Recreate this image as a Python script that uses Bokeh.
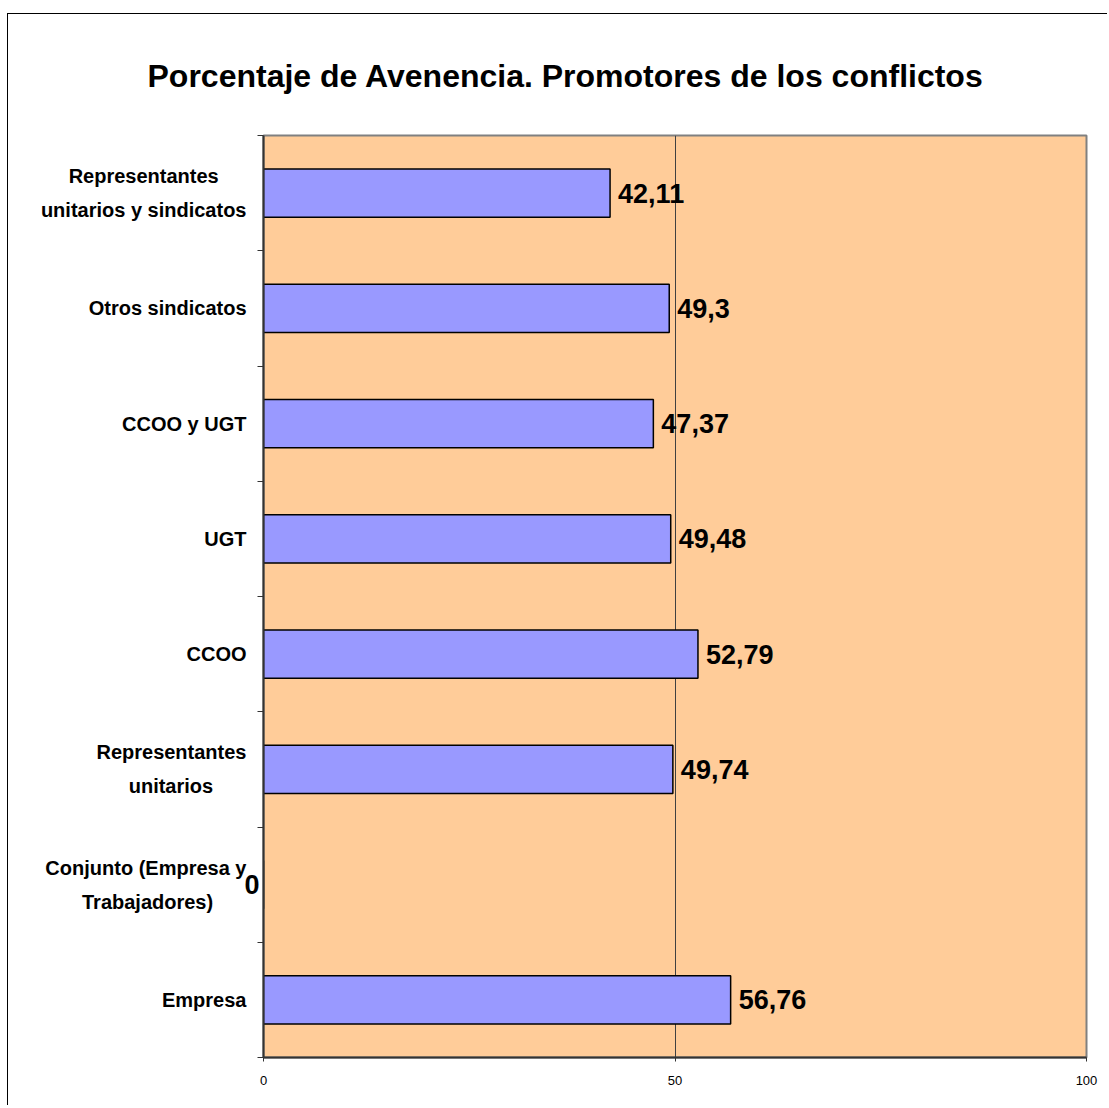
from bokeh.plotting import figure
from bokeh.models import Label, FixedTicker, Range1d, ColumnDataSource, LinearAxis
from bokeh.embed import file_html
from bokeh.resources import INLINE

# ---- data (bottom to top) ----
categories = [
    "Empresa",
    "Conjunto (Empresa y\nTrabajadores)",
    "Representantes\nunitarios",
    "CCOO",
    "UGT",
    "CCOO y UGT",
    "Otros sindicatos",
    "Representantes\nunitarios y sindicatos",
]
values = [56.76, 0, 49.74, 52.79, 49.48, 47.37, 49.3, 42.11]
value_labels = ["56,76", "0", "49,74", "52,79", "49,48", "47,37", "49,3", "42,11"]
x_ticks = [0, 50, 100]
title_text = "Porcentaje de Avenencia.  Promotores de los conflictos"

FONT = "Liberation Sans"
n = len(categories)
ypos = [i + 0.5 for i in range(n)]

p = figure(
    width=1100, height=1092,
    x_range=Range1d(0, 100), y_range=Range1d(0, n),
    output_backend="svg", toolbar_location=None,
    min_border_left=255, min_border_top=121, min_border_right=22, min_border_bottom=49,
)
p.styles = {"border-left": "1px solid black", "border-top": "1px solid black",
            "margin-top": "13px", "margin-left": "7px"}
p.background_fill_color = "#FFCC99"
p.border_fill_color = "white"
p.outline_line_color = "#808080"
p.outline_line_width = 2

# title
p.title.text = title_text
p.title.align = "left"
p.title.offset = -116
p.title.standoff = 83
p.title.text_font = FONT
p.title.text_font_style = "bold"
p.title.text_font_size = "32px"
p.title.text_color = "black"

src = ColumnDataSource(dict(y=ypos, v=values))
p.hbar(y="y", right="v", left=0, height=0.42, source=src,
       fill_color="#9999FF", line_color="black", line_width=1.5)

# x axis
p.xaxis.ticker = FixedTicker(ticks=x_ticks)
p.xaxis.axis_line_color = "#333333"
p.xaxis.axis_line_width = 2
p.xaxis.major_tick_out = 4
p.xaxis.major_tick_in = 0
p.xaxis.minor_tick_line_color = None
p.xaxis.major_tick_line_color = "#333333"
p.xaxis.major_label_text_font = FONT
p.xaxis.major_label_text_font_size = "13px"
p.xaxis.major_label_text_color = "black"
p.xaxis.major_label_standoff = 14

# inner y axis: category boundary ticks (minor) + outside-end label of zero-valued bars
zero_pos = [y for v, y in zip(values, ypos) if v == 0]
ya = p.yaxis[0]
ya.ticker = FixedTicker(ticks=zero_pos, minor_ticks=list(range(n + 1)))
ya.major_label_overrides = {y: t for v, t, y in zip(values, value_labels, ypos) if v == 0}
ya.axis_line_color = "#333333"
ya.axis_line_width = 2
ya.major_tick_out = 0
ya.major_tick_in = 0
ya.minor_tick_out = 6
ya.minor_tick_in = 0
ya.minor_tick_line_color = "#333333"
ya.major_tick_line_color = None
ya.major_label_text_font = FONT
ya.major_label_text_font_style = "bold"
ya.major_label_text_font_size = "27px"
ya.major_label_text_color = "black"
ya.major_label_standoff = -2

# outer y axis: category names (shorter lines padded so lines look centred)
pads = {1: [0, 6], 2: [0, 6], 7: [5, 0]}
NB = "\u00a0"
cat_text = {}
for i, (cat, y) in enumerate(zip(categories, ypos)):
    lines = cat.split("\n")
    pad = pads.get(i, [0] * len(lines))
    cat_text[y] = "\n".join(l + NB * k for l, k in zip(lines, pad))
yb = LinearAxis(ticker=FixedTicker(ticks=ypos), major_label_overrides=cat_text)
yb.axis_line_color = None
yb.major_tick_line_color = None
yb.minor_tick_line_color = None
yb.major_tick_out = 0
yb.major_tick_in = 0
yb.major_label_standoff = -5
yb.major_label_text_font = FONT
yb.major_label_text_font_style = "bold"
yb.major_label_text_font_size = "20px"
yb.major_label_text_line_height = 1.55
yb.major_label_text_color = "black"
p.add_layout(yb, "left")

p.xgrid.ticker = FixedTicker(ticks=[50])
p.xgrid.grid_line_color = "#404040"
p.xgrid.grid_line_width = 1
p.ygrid.grid_line_color = None

# value labels (inside the plot area)
for v, t, y in zip(values, value_labels, ypos):
    if v == 0:
        continue
    lab = Label(x=v, y=y, text=t, x_offset=8, text_align="left", text_baseline="middle",
                text_font=FONT, text_font_style="bold", text_font_size="27px",
                text_color="black")
    p.add_layout(lab)

open("out.html", "w").write(file_html(p, INLINE))
